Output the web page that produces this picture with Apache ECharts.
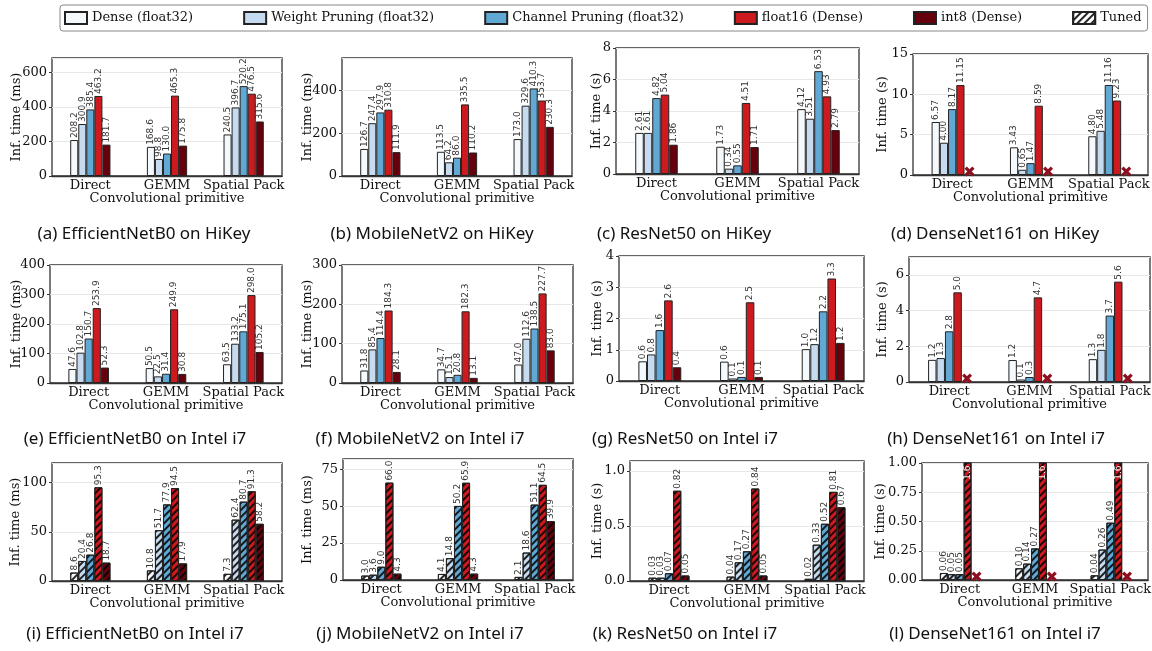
<!DOCTYPE html>
<html>
<head>
<meta charset="utf-8"/>
<title></title>
<script src="https://cdn.jsdelivr.net/npm/echarts@6/dist/echarts.min.js"></script>
</head>
<body style="margin:0;background:#fff">
<div id="chart" style="width:1152px;height:651px;"></div>
<script type="text/javascript">

var seriesNames = ['Dense (float32)', 'Weight Pruning (float32)', 'Channel Pruning (float32)', 'float16 (Dense)', 'int8 (Dense)'];
var categories = ['Direct', 'GEMM', 'Spatial Pack'];

// one row per series, values for [Direct, GEMM, Spatial Pack]; null = no result (x marker)
var effHiKey = [[208.2, 168.6, 240.5], [300.9, 98.8, 396.7], [385.4, 130.0, 520.2], [463.2, 465.3, 476.5], [181.7, 175.8, 315.6]];
var mobHiKey = [[126.7, 113.5, 173.0], [247.4, 64.2, 329.6], [297.9, 86.0, 410.3], [310.8, 335.5, 353.7], [111.9, 110.2, 230.3]];
var resHiKey = [[2.61, 1.73, 4.12], [2.61, 0.34, 3.51], [4.82, 0.55, 6.53], [5.04, 4.51, 4.93], [1.86, 1.71, 2.79]];
var denHiKey = [[6.57, 3.43, 4.80], [4.00, 0.65, 5.48], [8.17, 1.47, 11.16], [11.15, 8.59, 9.23], [null, null, null]];
var effI7 = [[47.6, 50.5, 63.5], [102.8, 22.5, 133.2], [150.7, 31.4, 175.1], [253.9, 249.9, 298.0], [52.3, 30.8, 105.2]];
var mobI7 = [[31.8, 34.7, 47.0], [85.4, 15.1, 112.6], [114.4, 20.8, 138.5], [184.3, 182.3, 227.7], [28.1, 13.1, 83.0]];
var resI7 = [[0.63, 0.62, 1.02], [0.85, 0.08, 1.18], [1.63, 0.13, 2.23], [2.58, 2.52, 3.28], [0.44, 0.13, 1.22]];
var denI7 = [[1.24, 1.23, 1.28], [1.34, 0.14, 1.80], [2.84, 0.28, 3.72], [5.02, 4.74, 5.62], [null, null, null]];
var effI7Tuned = [[8.6, 10.8, 7.3], [20.4, 51.7, 62.4], [26.8, 77.9, 80.7], [95.3, 94.5, 91.3], [18.7, 17.9, 58.2]];
var mobI7Tuned = [[3.0, 4.1, 2.1], [3.6, 14.8, 18.6], [9.0, 50.2, 51.1], [66.0, 65.9, 64.5], [4.3, 4.3, 39.9]];
var resI7Tuned = [[0.03, 0.04, 0.02], [0.03, 0.17, 0.33], [0.07, 0.27, 0.52], [0.82, 0.84, 0.81], [0.05, 0.05, 0.67]];
var denI7Tuned = [[0.06, 0.10, 0.04], [0.05, 0.14, 0.26], [0.05, 0.27, 0.49], [1.6, 1.6, 1.6], [null, null, null]];

var plots = [
    {cap: '(a) EfficientNetB0 on HiKey', vals: effHiKey, max: 683, step: 200, tickDec: 0, unit: 'ms', dec: 1},
    {cap: '(b) MobileNetV2 on HiKey', vals: mobHiKey, max: 553, step: 200, tickDec: 0, unit: 'ms', dec: 1},
    {cap: '(c) ResNet50 on HiKey', vals: resHiKey, max: 8, step: 2, tickDec: 0, unit: 's', dec: 2},
    {cap: '(d) DenseNet161 on HiKey', vals: denHiKey, max: 15, step: 5, tickDec: 0, unit: 's', dec: 2},
    {cap: '(e) EfficientNetB0 on Intel i7', vals: effI7, max: 400, step: 100, tickDec: 0, unit: 'ms', dec: 1},
    {cap: '(f) MobileNetV2 on Intel i7', vals: mobI7, max: 300, step: 100, tickDec: 0, unit: 'ms', dec: 1},
    {cap: '(g) ResNet50 on Intel i7', vals: resI7, max: 4, step: 1, tickDec: 0, unit: 's', dec: 1},
    {cap: '(h) DenseNet161 on Intel i7', vals: denI7, max: 7, step: 2, tickDec: 0, unit: 's', dec: 1},
    {cap: '(i) EfficientNetB0 on Intel i7', vals: effI7Tuned, max: 120, step: 50, tickDec: 0, unit: 'ms', dec: 1, tuned: true},
    {cap: '(j) MobileNetV2 on Intel i7', vals: mobI7Tuned, max: 82, step: 25, tickDec: 0, unit: 'ms', dec: 1, tuned: true},
    {cap: '(k) ResNet50 on Intel i7', vals: resI7Tuned, max: 1.09, step: 0.5, tickDec: 1, unit: 's', dec: 2, tuned: true},
    {cap: '(l) DenseNet161 on Intel i7', vals: denI7Tuned, max: 1, step: 0.25, tickDec: 2, unit: 's', dec: 2, tuned: true}
];

// left, top, width, height, y name gap, caption centre x, caption centre y
var layout = [
    [52, 58, 230, 118, 29, 144, 237],
    [342, 58, 230, 118, 28, 432, 237],
    [616, 48, 243, 126, 13, 684, 237],
    [913, 54, 235, 121, 24, 995, 237],
    [50, 265, 232, 118, 27, 135, 442],
    [342, 265, 231, 118, 28, 420, 442],
    [619, 256, 245, 125, 15, 685, 442],
    [909, 257, 241, 125, 20, 996, 442],
    [52, 463, 230, 118, 30, 135, 637],
    [343, 459, 230, 121, 29, 420, 637],
    [630, 461, 234, 120, 26, 685, 637],
    [922, 463, 226, 117, 35, 995, 637]
];

var colors = ['#f4f9fe', '#c6dbef', '#62a8d4', '#cc1a1e', '#67000d'];
var serif = 'DejaVu Serif';
var hatch = {symbol: 'rect', symbolSize: 1, dashArrayX: [1, 0], dashArrayY: [1.5, 3], rotation: -Math.PI / 4, color: 'rgba(0,0,0,0.85)'};

var grids = [], xAxes = [], yAxes = [], series = [], titles = [];

plots.forEach(function (p, i) {
    var L = layout[i];
    grids.push({left: L[0], top: L[1], width: L[2], height: L[3], show: true, borderColor: '#333', borderWidth: 1.3, outerBoundsMode: 'none'});
    xAxes.push({
        gridIndex: i, type: 'category', data: categories,
        axisTick: {show: false},
        axisLine: {lineStyle: {color: '#333', width: 1.3}},
        axisLabel: {interval: 0, fontFamily: serif, fontSize: 13, color: '#111', margin: 3},
        name: 'Convolutional primitive', nameLocation: 'middle', nameGap: 16, nameMoveOverlap: false,
        nameTextStyle: {fontFamily: serif, fontSize: 13, color: '#111'}
    });
    var r = p.max / p.step;
    yAxes.push({
        gridIndex: i, type: 'value', min: 0, max: p.max, interval: p.step,
        splitLine: {lineStyle: {color: '#e8e8e8', width: 1}},
        axisLine: {show: false},
        axisTick: {show: true, length: 3, lineStyle: {color: '#333'}},
        axisLabel: {
            fontFamily: serif, fontSize: 13, color: '#111', margin: 5,
            showMaxLabel: Math.abs(r - Math.round(r)) < 1e-6,
            formatter: (function (d) { return function (v) { return v.toFixed(d); }; })(p.tickDec)
        },
        name: 'Inf. time (' + p.unit + ')', nameLocation: 'middle', nameGap: L[4], nameMoveOverlap: false,
        nameTextStyle: {fontFamily: serif, fontSize: 13, color: '#111'}
    });
    titles.push({
        text: p.cap, left: L[5], top: L[6] - 11, textAlign: 'center', padding: 0,
        textStyle: {fontFamily: 'Noto Sans', fontSize: 17, fontWeight: 'normal', color: '#111'}
    });

    p.vals.forEach(function (vals, s) {
        var data = vals.map(function (v) {
            if (v === null) {
                return {
                    value: 0, itemStyle: {borderWidth: 0},
                    label: {formatter: '\u2716', rotate: 0, position: 'inside', align: 'center', verticalAlign: 'middle',
                        fontSize: 15, color: '#8e1020', offset: [1, -2]}
                };
            }
            if (v > p.max) {
                return {value: v, label: {position: 'insideTop', align: 'right', distance: 3, color: '#f2f2f2', formatter: v.toFixed(1)}};
            }
            return v;
        });
        var item = {color: colors[s], borderColor: '#222', borderWidth: 1};
        if (p.tuned) item.decal = hatch;
        series.push({
            name: seriesNames[s], type: 'bar', xAxisIndex: i, yAxisIndex: i,
            data: data, barWidth: '10.5%', barGap: '0%',
            itemStyle: item,
            label: {
                show: true, position: 'top', rotate: 90, align: 'left', verticalAlign: 'middle', distance: 2,
                fontFamily: 'DejaVu Sans', fontSize: 9, color: '#333',
                formatter: (function (d) { return function (q) { return q.value.toFixed(d); }; })(p.dec)
            },
            animation: false
        });
    });
});

// hidden grid only carries the "Tuned" legend entry
grids.push({left: -200, top: -200, width: 10, height: 10, show: false});
xAxes.push({gridIndex: 12, type: 'category', data: categories, show: false});
yAxes.push({gridIndex: 12, type: 'value', show: false});
series.push({
    name: 'Tuned', type: 'bar', xAxisIndex: 12, yAxisIndex: 12, data: [],
    itemStyle: {color: '#fff', borderColor: '#222', borderWidth: 1, decal: hatch}
});

var chart = echarts.init(document.getElementById('chart'), null, {renderer: 'canvas'});
chart.setOption({
    backgroundColor: '#fff',
    animation: false,
    title: titles,
    legend: {
        left: 60, top: 5, icon: 'rect', itemWidth: 22, itemHeight: 12, itemGap: 50,
        padding: [6, 6, 6, 4], borderColor: '#888', borderWidth: 1, borderRadius: 3,
        selectedMode: false,
        data: seriesNames.concat(['Tuned']),
        textStyle: {fontFamily: serif, fontSize: 13, color: '#111'}
    },
    grid: grids,
    xAxis: xAxes,
    yAxis: yAxes,
    series: series
});
</script>
</body>
</html>
